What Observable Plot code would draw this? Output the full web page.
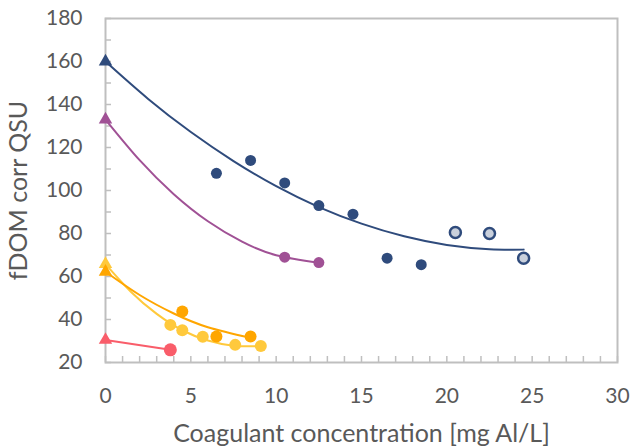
<!DOCTYPE html>
<html>
<head>
<meta charset="utf-8">
<script src="https://cdn.jsdelivr.net/npm/d3@7"></script>
<script src="https://cdn.jsdelivr.net/npm/@observablehq/plot@0.6"></script>
<style>
  html, body { margin: 0; padding: 0; background: #fff; }
  svg { display: block; }
</style>
</head>
<body>
<div id="chart"></div>
<script>
// ---- data ----
const xTicks = [0, 5, 10, 15, 20, 25, 30];
const yTicks = [20, 40, 60, 80, 100, 120, 140, 160, 180];

// navy series
const navyStartX = [0], navyStartY = [160];
const navyDotX = [6.5, 8.5, 10.5, 12.5, 14.5, 16.5, 18.5];
const navyDotY = [108, 114, 103.5, 93, 89, 68.5, 65.5];
const navyOpenX = [20.5, 22.5, 24.5];
const navyOpenY = [80.5, 80, 68.5];
const navyTrendX = [0, 2.5, 5, 7.5, 10, 12.5, 15, 17.5, 20, 22.5, 24.5];
const navyTrendY = [160, 142.6, 127.2, 113.7, 102, 92.3, 84.6, 78.7, 74.7, 72.7, 72.5];

// purple series
const purpleStartX = [0], purpleStartY = [133];
const purpleDotX = [10.5, 12.5];
const purpleDotY = [69, 66.5];
const purpleTrendX = [0, 2, 4, 6, 8, 10, 12.5];
const purpleTrendY = [133, 114.1, 98.3, 85.7, 76.2, 69.9, 66.4];

// orange series
const orangeStartX = [0], orangeStartY = [62.2];
const orangeDotX = [4.5, 6.5, 8.5];
const orangeDotY = [43.7, 32.1, 32.1];
const orangeTrendX = [0, 2, 4, 6, 8.5];
const orangeTrendY = [62.2, 51.4, 42.8, 36.4, 31.5];

// yellow series
const yellowStartX = [0], yellowStartY = [65.8];
const yellowDotX = [3.8, 4.5, 5.7, 7.6, 9.1];
const yellowDotY = [37.5, 35, 32, 28.2, 27.7];
const yellowTrendX = [0, 1.5, 3, 4.5, 6, 7.5, 9.1];
const yellowTrendY = [65.8, 52.8, 42.6, 35.0, 30.2, 27.8, 27.6];

// red series
const redStartX = [0], redStartY = [30.5];
const redDotX = [3.8], redDotY = [25.9];
const redLineX = [0, 3.8], redLineY = [30.5, 25.9];

const C = {
  navy: "#2f4b7c", navyOpen: "#c9d0dc", purple: "#a05195",
  orange: "#ffa600", yellow: "#ffc93c", red: "#f95d6a",
  axis: "#bfbfbf", text: "#595959"
};

const zip = (xs, ys) => xs.map((x, i) => ({x, y: ys[i]}));
const font = "Lato, 'Open Sans', sans-serif";

const plot = Plot.plot({
  width: 632,
  height: 446,
  marginLeft: 105,
  marginRight: 15,
  marginTop: 18,
  marginBottom: 84,
  style: {fontFamily: font, background: "#fff"},
  x: {domain: [0, 30]},
  y: {domain: [20, 180]},
  marks: [
    Plot.frame({stroke: C.axis, strokeWidth: 2}),
    // minor ticks
    Plot.axisX({ticks: d3.range(0, 31, 1), tickSize: -6, tickFormat: () => "", stroke: C.axis, strokeWidth: 1.5, label: null}),
    Plot.axisY({ticks: d3.range(20, 181, 10), tickSize: -6, tickFormat: () => "", stroke: C.axis, strokeWidth: 1.5, label: null}),
    // labelled axes
    Plot.axisX({ticks: xTicks, tickSize: 0, tickPadding: 26, fontSize: 21, fill: C.text,
      label: "Coagulant concentration [mg Al/L]", labelAnchor: "center", labelArrow: "none", labelOffset: 79}),
    Plot.axisY({ticks: yTicks, tickSize: 0, tickPadding: 23, fontSize: 21, fill: C.text,
      label: "fDOM corr QSU", labelAnchor: "center", labelArrow: "none", labelOffset: 96}),
    // trend lines
    Plot.line(zip(navyTrendX, navyTrendY), {x: "x", y: "y", stroke: C.navy, strokeWidth: 2, curve: "natural"}),
    Plot.line(zip(purpleTrendX, purpleTrendY), {x: "x", y: "y", stroke: C.purple, strokeWidth: 2, curve: "natural"}),
    Plot.line(zip(yellowTrendX, yellowTrendY), {x: "x", y: "y", stroke: C.yellow, strokeWidth: 2, curve: "natural"}),
    Plot.line(zip(orangeTrendX, orangeTrendY), {x: "x", y: "y", stroke: C.orange, strokeWidth: 2, curve: "natural"}),
    Plot.line(zip(redLineX, redLineY), {x: "x", y: "y", stroke: C.red, strokeWidth: 2}),
    // start triangles
    Plot.dot(zip(navyStartX, navyStartY), {x: "x", y: "y", symbol: "triangle", r: 5, fill: C.navy}),
    Plot.dot(zip(purpleStartX, purpleStartY), {x: "x", y: "y", symbol: "triangle", r: 5, fill: C.purple}),
    Plot.dot(zip(yellowStartX, yellowStartY), {x: "x", y: "y", symbol: "triangle", r: 5, fill: C.yellow}),
    Plot.dot(zip(orangeStartX, orangeStartY), {x: "x", y: "y", symbol: "triangle", r: 5, fill: C.orange}),
    Plot.dot(zip(redStartX, redStartY), {x: "x", y: "y", symbol: "triangle", r: 5, fill: C.red}),
    // dots
    Plot.dot(zip(navyDotX, navyDotY), {x: "x", y: "y", r: 5.5, fill: C.navy}),
    Plot.dot(zip(navyOpenX, navyOpenY), {x: "x", y: "y", r: 5.5, fill: C.navyOpen, stroke: C.navy, strokeWidth: 2.5}),
    Plot.dot(zip(purpleDotX, purpleDotY), {x: "x", y: "y", r: 5.5, fill: C.purple}),
    Plot.dot(zip(yellowDotX, yellowDotY), {x: "x", y: "y", r: 6, fill: C.yellow}),
    Plot.dot(zip(orangeDotX, orangeDotY), {x: "x", y: "y", r: 6, fill: C.orange}),
    Plot.dot(zip(redDotX, redDotY), {x: "x", y: "y", r: 6.5, fill: C.red})
  ]
});
// enlarge axis titles (the axis fontSize applies to the tick labels)
plot.querySelectorAll("g[aria-label='x-axis label'] text, g[aria-label='y-axis label'] text").forEach(t => {
  t.setAttribute("font-size", 25);
  t.style.fontSize = "25px";
});
document.getElementById("chart").appendChild(plot);
</script>
</body>
</html>
